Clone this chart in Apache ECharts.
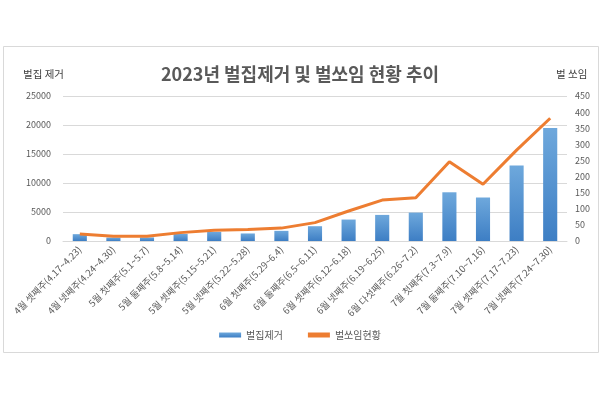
<!DOCTYPE html>
<html><head><meta charset="utf-8">
<script src="https://cdn.jsdelivr.net/npm/echarts@6/dist/echarts.min.js"></script>
<style>html,body{margin:0;padding:0;background:#fff}#c{width:600px;height:400px}</style>
</head><body><div id="c"></div>
<script>
const categories = ['4월 셋째주(4.17~4.23)','4월 넷째주(4.24~4.30)','5월 첫째주(5.1~5.7)','5월 둘째주(5.8~5.14)','5월 셋째주(5.15~5.21)','5월 넷째주(5.22~5.28)','6월 첫째주(5.29~6.4)','6월 둘째주(6.5~6.11)','6월 셋째주(6.12~6.18)','6월 넷째주(6.19~6.25)','6월 다섯째주(6.26~7.2)','7월 첫째주(7.3~7.9)','7월 둘째주(7.10~7.16)','7월 셋째주(7.17~7.23)','7월 넷째주(7.24~7.30)'];
const hiveRemoval = [1180, 600, 620, 1230, 1580, 1300, 1750, 2550, 3700, 4500, 4900, 8400, 7500, 13000, 19500];
const stings = [22, 15, 15, 26, 33, 36, 40, 57, 93, 127, 134, 246, 176, 282, 381];
const leftTicks = {min: 0, max: 25000, interval: 5000};
const rightTicks = {min: 0, max: 450, interval: 50};

const font = '"Noto Sans CJK KR", "Noto Sans", sans-serif';
const gray = '#595959';
const chart = echarts.init(document.getElementById('c'), null, {renderer: 'canvas'});
chart.setOption({
  backgroundColor: '#fff',
  animation: false,
  textStyle: {fontFamily: font},
  graphic: [
    {type: 'rect', shape: {x: 3.5, y: 46.5, width: 595, height: 306}, style: {fill: 'none', stroke: '#d9d9d9', lineWidth: 1}, silent: true, z: -1},
    {type: 'text', left: 23, top: 69, style: {text: '벌집 제거', font: '10.5px ' + font, fill: '#404040'}},
    {type: 'text', left: 556, top: 69, style: {text: '벌 쏘임', font: '10.5px ' + font, fill: '#404040'}}
  ],
  title: {
    text: '2023년 벌집제거 및 벌쏘임 현황 추이',
    left: 'center', top: 60,
    textStyle: {fontFamily: font, fontSize: 18, fontWeight: 'bold', color: gray}
  },
  legend: {
    bottom: 55, left: 'center', itemWidth: 22, itemHeight: 5, itemGap: 25,
    textStyle: {fontFamily: font, fontSize: 10, color: gray},
    data: [
      {name: '벌집제거', icon: 'rect'},
      {name: '벌쏘임현황', icon: 'rect'}
    ]
  },
  grid: {left: 63, right: 33, top: 96, bottom: 159},
  xAxis: {
    type: 'category', data: categories,
    axisLine: {lineStyle: {color: '#d9d9d9'}},
    axisTick: {show: false},
    axisLabel: {rotate: 45, interval: 0, fontSize: 9.5, color: gray, fontFamily: font, margin: 7}
  },
  yAxis: [
    {type: 'value', min: leftTicks.min, max: leftTicks.max, interval: leftTicks.interval,
     axisLabel: {fontSize: 9, color: gray, fontFamily: font, margin: 12, formatter: v => String(v)},
     axisLine: {show: false}, axisTick: {show: false},
     splitLine: {lineStyle: {color: '#d9d9d9'}}},
    {type: 'value', min: rightTicks.min, max: rightTicks.max, interval: rightTicks.interval,
     axisLabel: {fontSize: 9, color: gray, fontFamily: font, margin: 8, formatter: v => String(v)},
     axisLine: {show: false}, axisTick: {show: false},
     splitLine: {show: false}}
  ],
  series: [
    {name: '벌집제거', type: 'bar', data: hiveRemoval, barWidth: '42%', yAxisIndex: 0,
     itemStyle: {color: new echarts.graphic.LinearGradient(0, 0, 0, 1, [
       {offset: 0, color: '#6ea8dc'}, {offset: 1, color: '#3d7ec4'}])}},
    {name: '벌쏘임현황', type: 'line', data: stings, yAxisIndex: 1,
     symbol: 'none', lineStyle: {color: '#ED7D31', width: 3}, itemStyle: {color: '#ED7D31'}}
  ]
});
</script></body></html>
